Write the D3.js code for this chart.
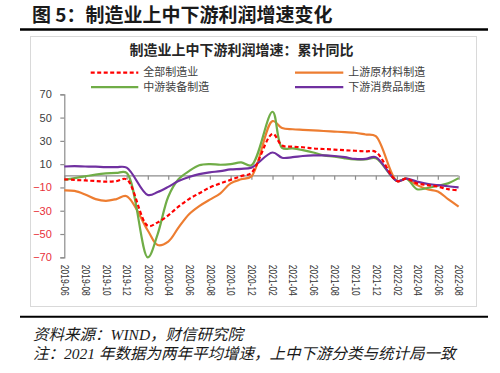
<!DOCTYPE html>
<html><head><meta charset="utf-8">
<script src="https://cdn.jsdelivr.net/npm/d3@7"></script>
<style>body{margin:0;background:#fff} svg{display:block}</style>
</head><body><svg id="c" width="500" height="373"></svg>
<script>
const months = ["2019-06","2019-07","2019-08","2019-09","2019-10","2019-11","2019-12",
"2020-02","2020-03","2020-04","2020-05","2020-06","2020-07","2020-08","2020-09","2020-10","2020-11","2020-12",
"2021-02","2021-03","2021-04","2021-05","2021-06","2021-07","2021-08","2021-09","2021-10","2021-11","2021-12",
"2022-02","2022-03","2022-04","2022-05","2022-06","2022-07","2022-08"];
const allMfg =     [-3,-3.5,-4,-4.5,-5,-4.5,-3, -43,-40,-34,-26.5,-20,-15,-10,-6.5,-3.5,-0.3,2.5, 36,26,25,24.5,23.5,23,22.5,22,21.5,21,20.5, -4.5,-2.5,-6.5,-8,-9.3,-11.5,-12.5];
const upstream =   [-12.5,-13,-16,-20,-21.5,-20,-17.5, -47,-59.5,-56.5,-44.5,-33,-26,-20.5,-15,-6.5,-3,-0.5, 47,41,40,39.5,39,38.5,38,37.5,37,35.5,34, -4.5,-2.5,-8,-11.5,-13.5,-20,-26.5];
const midstream =  [-3.5,-2,-0.5,1,2,2.5,2.5, -70,-50,-18,-3,4,9,10,9.5,10,11.5,9, 55,24,23.5,22,20,17.5,16.5,15,14,14,15, -4.5,-2.5,-11.5,-10.5,-8.5,-6.5,-2];
const downstream = [8,8.3,8,7.8,7.5,7.5,7, -16.5,-14,-9.5,-4.5,-1,1.5,3,4,5.5,6,7, 20,15.5,16,17,17.5,17.5,17,16,14.5,14.5,16, -4.5,-2.5,-5,-7,-8,-9,-10];
const seriesNames = ["全部制造业","上游原材料制造","中游装备制造","下游消费品制造"];
const yTicks = [-70,-50,-30,-10,10,30,50,70];
const xTickLabels = ["2019-06","2019-08","2019-10","2019-12","2020-02","2020-04","2020-06","2020-08","2020-10","2020-12",
"2021-02","2021-04","2021-06","2021-08","2021-10","2021-12","2022-02","2022-04","2022-06","2022-08"];
const figTitle = "图 5：制造业上中下游利润增速变化";
const chartTitle = "制造业上中下游利润增速：累计同比";
const note1 = "资料来源：WIND，财信研究院";
const note2 = "注：2021 年数据为两年平均增速，上中下游分类与统计局一致";

const svg = d3.select("#c");
const parse = d3.timeParse("%Y-%m");
const cjk = "'Noto Sans CJK SC', sans-serif";
const latin = "'Liberation Sans', Arial, 'Noto Sans CJK SC', sans-serif";

// figure title and rules
svg.append("text").attr("x",32).attr("y",22).attr("font-family",cjk).attr("font-weight","bold")
  .attr("font-size",19).attr("fill","#1a1a1a").text(figTitle);
svg.append("line").attr("x1",20).attr("x2",488).attr("y1",29.5).attr("y2",29.5).attr("stroke","#000").attr("stroke-width",2.5);
svg.append("line").attr("x1",20).attr("x2",488).attr("y1",316.7).attr("y2",316.7).attr("stroke","#000").attr("stroke-width",2);

// chart frame
svg.append("rect").attr("x",30.5).attr("y",36.5).attr("width",446).attr("height",270)
  .attr("fill","#fff").attr("stroke","#d9d9d9").attr("stroke-width",1);

svg.append("text").attr("x",241.5).attr("y",55).attr("text-anchor","middle").attr("font-family",cjk)
  .attr("font-weight","bold").attr("font-size",14).attr("fill","#262626").text(chartTitle);

const x = d3.scaleTime().domain([parse("2019-06"), parse("2022-08")]).range([64.3, 458.6]);
const y = d3.scaleLinear().domain([-70, 70]).range([257.3, 94.3]);

// y axis
const yAxis = svg.append("g").attr("transform","translate(64.3,0)")
  .call(d3.axisLeft(y).tickValues(yTicks).tickSize(4).tickPadding(8.5).tickFormat(d3.format("d")));
yAxis.select(".domain").attr("stroke","#8c8c8c").attr("stroke-width",1.2);
yAxis.selectAll(".tick line").attr("stroke","#8c8c8c").attr("stroke-width",1.2);
yAxis.selectAll(".tick text").attr("font-family",latin).attr("font-size",11)
  .attr("fill", d => d < 0 ? "#e8303a" : "#404040");

// x axis on zero line
const xTickDates = xTickLabels.map(parse);
const xAxis = svg.append("g").attr("transform",`translate(0,${y(0)})`)
  .call(d3.axisBottom(x).tickValues(xTickDates).tickSize(4).tickFormat(""));
xAxis.select(".domain").attr("stroke","#8c8c8c").attr("stroke-width",1.2).attr("d", `M${x.range()[0]},0H${x.range()[1]}`);
xAxis.selectAll(".tick line").attr("stroke","#8c8c8c").attr("stroke-width",1.2);

// x labels at bottom
const xLab = svg.append("g").attr("transform",`translate(0,${y(-70)})`)
  .call(d3.axisBottom(x).tickValues(xTickDates).tickSize(0).tickFormat(d3.timeFormat("%Y-%m")));
xLab.select(".domain").remove();
xLab.selectAll(".tick text")
  .attr("font-family",latin).attr("font-size",10.5).attr("fill","#333")
  .attr("text-anchor","start").attr("dy","0.35em")
  .attr("transform","translate(0,7.5) rotate(90)").attr("y",0).attr("x",0)
  .attr("textLength",31).attr("lengthAdjust","spacingAndGlyphs");

// series
const series = [
  {name: seriesNames[1], vals: upstream, color:"#ed7d31", dash:null},
  {name: seriesNames[2], vals: midstream, color:"#70ad47", dash:null},
  {name: seriesNames[3], vals: downstream, color:"#7030a0", dash:null},
  {name: seriesNames[0], vals: allMfg, color:"#ff0000", dash:"4,2.5"}
];
const line = d3.line().x(d => x(d.date)).y(d => y(d.v)).curve(d3.curveCatmullRom.alpha(0.5));
series.forEach(s => {
  const pts = months.map((m,i) => ({date: parse(m), v: s.vals[i]}));
  svg.append("path").datum(pts).attr("d", line).attr("fill","none")
    .attr("stroke", s.color).attr("stroke-width", 2.2)
    .attr("stroke-dasharray", s.dash).attr("stroke-linejoin","round");
});

// legend
const legend = [
  {name: seriesNames[0], color:"#ff0000", dash:"4,2.5", x1:90.7, x2:138.3, ty:143.3, y:72.6},
  {name: seriesNames[1], color:"#ed7d31", dash:null, x1:295, x2:343.3, ty:348.3, y:72.6},
  {name: seriesNames[2], color:"#70ad47", dash:null, x1:91, x2:138.3, ty:143.3, y:87.2},
  {name: seriesNames[3], color:"#7030a0", dash:null, x1:295, x2:343.3, ty:348.3, y:87.2}
];
legend.forEach(l => {
  svg.append("line").attr("x1",l.x1).attr("x2",l.x2).attr("y1",l.y).attr("y2",l.y)
    .attr("stroke",l.color).attr("stroke-width",2.2).attr("stroke-dasharray",l.dash);
  svg.append("text").attr("x",l.ty).attr("y",l.y).attr("dy","0.35em").attr("font-family",cjk).attr("font-size",11)
    .attr("fill","#404040").text(l.name);
});

// notes
const noteFont = "'Liberation Serif', 'Noto Sans CJK SC', serif";
svg.append("text").attr("x",33).attr("y",339.5).attr("font-family",noteFont).attr("font-style","italic")
  .attr("font-size",15.5).attr("fill","#1a1a1a").text(note1);
svg.append("text").attr("x",33).attr("y",358.5).attr("font-family",noteFont).attr("font-style","italic")
  .attr("font-size",15.5).attr("fill","#1a1a1a").text(note2);
</script></body></html>
